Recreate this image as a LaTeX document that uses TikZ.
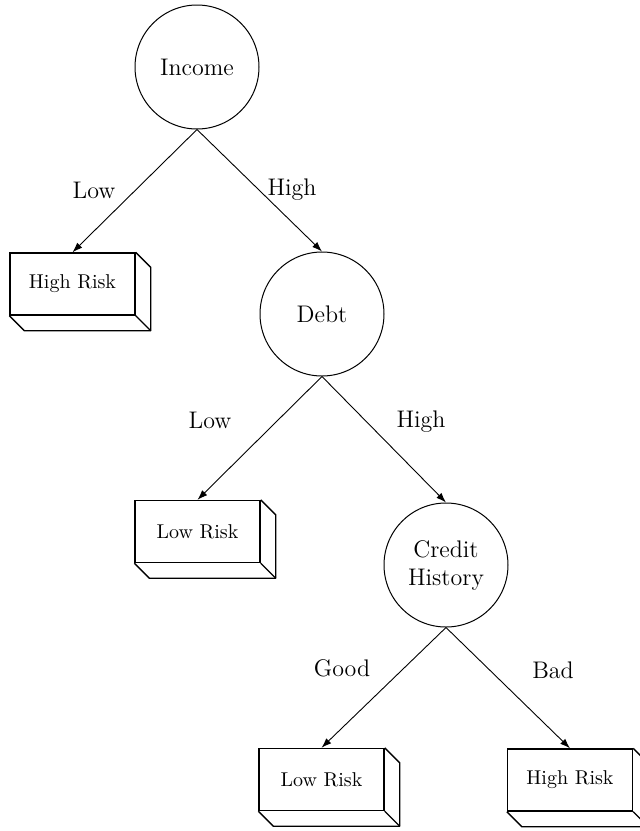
\documentclass[tikz,border=0pt]{standalone}
\usetikzlibrary{arrows.meta}
\begin{document}
\begin{tikzpicture}[x=0.5pt,y=-0.5pt,
  decision/.style={draw, circle, minimum size=62pt, inner sep=0pt, font=\large, align=center, line width=0.5pt},
  leafbox/.style={draw, rectangle, minimum width=62.5pt, minimum height=31pt, inner sep=0pt, line width=0.7pt},
  branch/.style={-{Latex[length=5pt,width=3.5pt]}, line width=0.45pt},
  blabel/.style={font=\large}]
\useasboundingbox (0,0) rectangle (640,831);
\newcommand{\boxdepth}[1]{%
  \draw[line width=0.7pt, line join=round] (#1.north east) -- ++(15,15) -- ([shift={(15,15)}]#1.south east) -- ([shift={(15,15)}]#1.south west) -- (#1.south west);
  \draw[line width=0.7pt] (#1.south east) -- ++(15,15);}
\node[decision] (inc) at (197,67) {Income};
\node[decision] (debt) at (322,314) {Debt};
\node[decision] (cred) at (446,565) {Credit\\History};
\node[leafbox] (hr1) at (72.5,284) {High Risk};
\node[leafbox] (lr1) at (197.5,531.5) {Low Risk};
\node[leafbox] (lr2) at (321.5,779.5) {Low Risk};
\node[leafbox] (hr2) at (570,780) {High Risk};
\boxdepth{hr1}
\boxdepth{lr1}
\boxdepth{lr2}
\boxdepth{hr2}
\draw[branch] (inc.south) -- (hr1.north);
\draw[branch] (inc.south) -- (debt.north);
\draw[branch] (debt.south) -- (lr1.north);
\draw[branch] (debt.south) -- (cred.north);
\draw[branch] (cred.south) -- (lr2.north);
\draw[branch] (cred.south) -- (hr2.north);
\node[blabel] (l1) at (94,190) {Low};
\node[blabel] (h1) at (292,190) {High};
\node[blabel] (l2) at (210,420) {Low};
\node[blabel] (h2) at (421,422) {High};
\node[blabel] (g3) at (342,668) {Good};
\node[blabel] (b3) at (553,670) {Bad};
\end{tikzpicture}
\end{document}
